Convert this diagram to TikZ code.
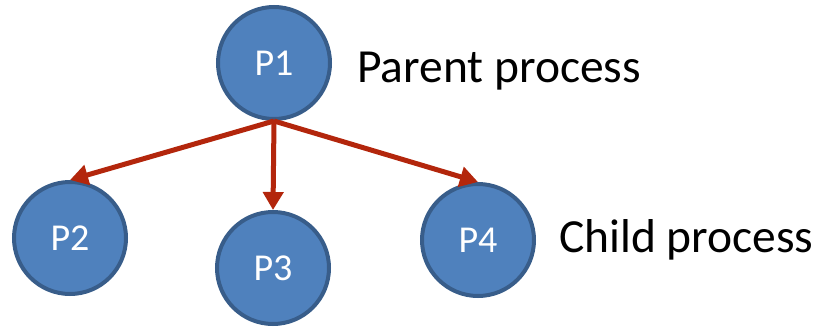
\documentclass[tikz,border=0pt]{standalone}
\usepackage{fontspec}
\setmainfont{Carlito}
\usetikzlibrary{arrows.meta}
\definecolor{procfill}{HTML}{4F81BD}
\definecolor{procline}{HTML}{385D8A}
\definecolor{forkred}{HTML}{B3260C}
\tikzset{
  proc/.style={circle, draw=procline, fill=procfill, line width=4pt,
    minimum size=112pt, inner sep=0pt, text=white,
    font=\fontsize{38}{40}\selectfont},
  fork/.style={draw=forkred, line width=5pt,
    -{Triangle[length=18pt,width=20pt,fill=forkred]}},
  caption/.style={anchor=base west, inner sep=0pt,
    font=\fontsize{47.5}{50}\selectfont}
}
\begin{document}
\begin{tikzpicture}[x=1pt,y=-1pt]
\useasboundingbox (0,0) rectangle (817,329);
\node[proc] (P1) at (274,63) {P1};
\node[proc] (P2) at (70,238) {P2};
\node[proc] (P3) at (273,268) {P3};
\node[proc] (P4) at (478,240) {P4};
\draw[fork] (P1.south) -- (P2.north);
\draw[fork] (P1.south) -- (P3.north);
\draw[fork] (P1.south) -- (P4.north);
\node[caption] (parent) at (357,82) {Parent process};
\node[caption] (child) at (559,252) {Child process};
\end{tikzpicture}
\end{document}
